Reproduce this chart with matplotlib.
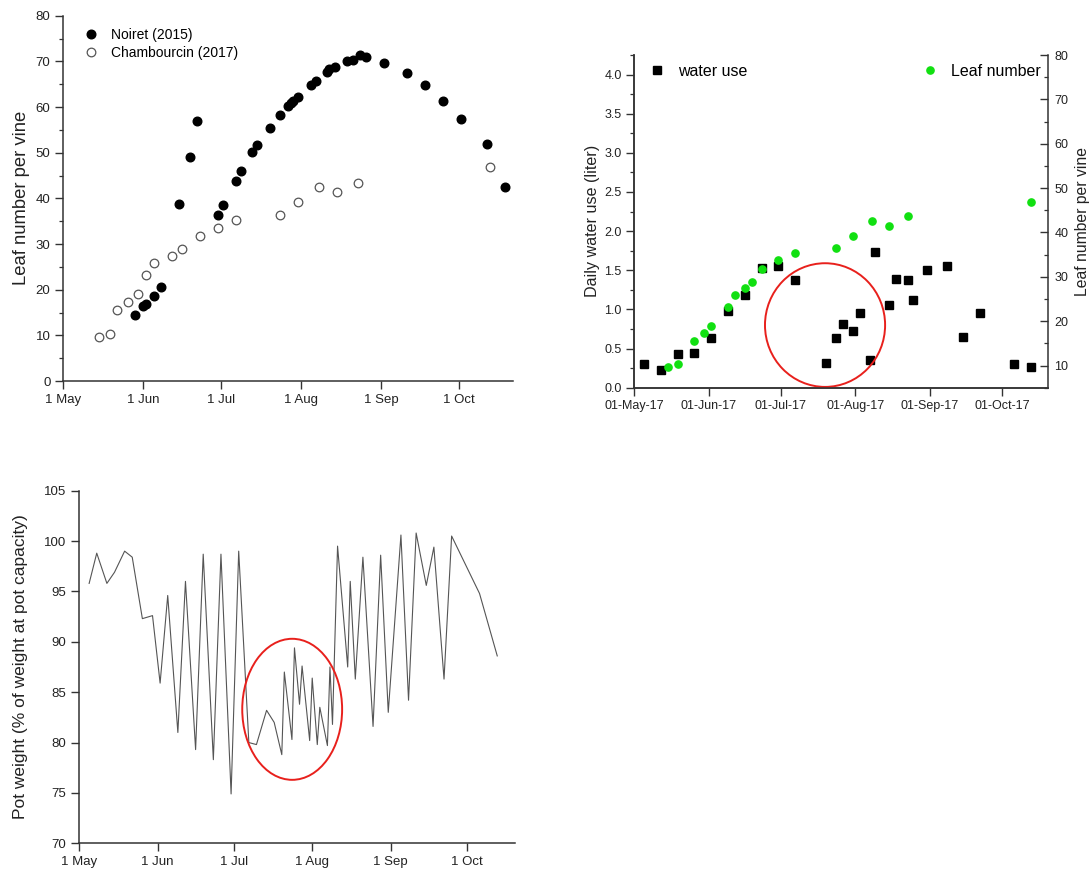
"""Leaf number, daily water use and pot weight of the vines, 2015 / 2017."""
import matplotlib
matplotlib.use("Agg")
import matplotlib.pyplot as plt
import matplotlib.dates as mdates
import numpy as np
import pandas as pd
from matplotlib.patches import Ellipse
from matplotlib.ticker import MultipleLocator

plt.rcParams["font.family"] = ["Liberation Sans", "DejaVu Sans"]

START = pd.Timestamp("2017-05-01")

# ---- data (days after 1 May) -------------------------------------------
noiret_day = [28, 31, 32, 35, 38, 45, 49, 52, 60, 62, 67, 69, 73, 75, 80, 84,
              87, 88, 89, 91, 96, 98, 102, 103, 105, 110, 112, 115, 117, 124,
              133, 140, 147, 154, 164, 171]
noiret_leaf = [14.4, 16.4, 16.9, 18.6, 20.5, 38.8, 49.1, 56.9, 36.4, 38.5,
               43.9, 46.0, 50.2, 51.7, 55.3, 58.2, 60.2, 60.8, 61.4, 62.3,
               64.8, 65.8, 67.7, 68.4, 68.8, 70.0, 70.4, 71.3, 70.9, 69.7,
               67.5, 64.8, 61.3, 57.4, 51.9, 42.4]

chamb_day = [14, 18, 21, 25, 29, 32, 35, 42, 46, 53, 60, 67, 84, 91, 99, 106,
             114, 165]
chamb_leaf = [9.7, 10.3, 15.6, 17.2, 19.1, 23.2, 25.8, 27.4, 28.8, 31.8, 33.6,
              35.2, 36.4, 39.2, 42.4, 41.5, 43.4, 46.9]

water_day = [4, 11, 18, 25, 32, 39, 46, 53, 60, 67, 80, 84, 87, 91, 94, 98,
             100, 106, 109, 114, 116, 122, 130, 137, 144, 158, 165]
water_use = [0.30, 0.23, 0.43, 0.44, 0.64, 0.98, 1.19, 1.53, 1.55, 1.37, 0.32,
             0.64, 0.81, 0.72, 0.96, 0.36, 1.735, 1.06, 1.39, 1.38, 1.12, 1.505,
             1.556, 0.65, 0.95, 0.30, 0.26]

leaf17_day = [14, 18, 25, 29, 32, 39, 42, 46, 49, 53, 60, 67, 84, 91, 99, 106,
              114, 165]
leaf17 = [9.7, 10.3, 15.6, 17.3, 19.0, 23.3, 25.8, 27.5, 28.8, 31.8, 33.8,
          35.4, 36.5, 39.3, 42.5, 41.5, 43.6, 46.9]

pot_day = [4, 7, 11, 14, 18, 21, 25, 29, 32, 35, 39, 42, 46, 49, 53, 56, 60,
           63, 67, 70, 74, 77, 80, 81, 84, 85, 87, 88, 91, 92, 94, 95, 98, 99,
           100, 102, 106, 107, 109, 112, 116, 119, 122, 127, 130, 133, 137,
           140, 144, 147, 158, 165]
pot_weight = [95.8, 98.8, 95.8, 96.9, 99.0, 98.4, 92.3, 92.6, 85.9, 94.6, 81.0,
              96.0, 79.3, 98.7, 78.3, 98.7, 74.9, 99.0, 80.0, 79.8, 83.2, 82.0,
              78.8, 87.0, 80.3, 89.4, 83.8, 87.6, 80.2, 86.4, 79.8, 83.5, 79.7,
              87.5, 81.8, 99.5, 87.5, 96.0, 86.3, 98.4, 81.6, 98.6, 83.0, 100.6,
              84.2, 100.8, 95.6, 99.4, 86.3, 100.5, 94.8, 88.6]


def dates(days):
    return START + pd.to_timedelta(np.asarray(days), unit="D")


INK = "#333333"


def style(ax):
    for s in ("top", "right"):
        ax.spines[s].set_visible(False)
    for s in ("left", "bottom", "right"):
        ax.spines[s].set_color(INK)
        ax.spines[s].set_linewidth(1.1)
    ax.tick_params(which="major", direction="out", length=5.5, width=1.0,
                   color=INK, labelcolor="#222222", labelsize=9.5)
    ax.tick_params(which="minor", direction="out", length=3, width=0.9,
                   color=INK)
    ax.xaxis.set_major_locator(mdates.MonthLocator())


W, H = 1091, 871
fig = plt.figure(figsize=(W / 100, H / 100), dpi=100)


def add_axes(left, right, top, bottom):
    return fig.add_axes([left / W, 1 - bottom / H, (right - left) / W,
                         (bottom - top) / H])


# ---------------------------------------------------------------- top left
ax1 = add_axes(63, 513, 15.7, 381)
ax1.plot(dates(noiret_day), noiret_leaf, "o", color="black", ms=6.2,
         label="Noiret (2015)")
ax1.plot(dates(chamb_day), chamb_leaf, "o", mfc="white", mec="#555555",
         mew=0.9, ms=6.2, label="Chambourcin (2017)")
ax1.set_xlim(START, START + pd.Timedelta(days=174))
ax1.set_ylim(0, 80)
ax1.yaxis.set_major_locator(MultipleLocator(10))
ax1.yaxis.set_minor_locator(MultipleLocator(5))
style(ax1)
ax1.xaxis.set_major_formatter(mdates.DateFormatter("%-d %b"))
ax1.set_ylabel("Leaf number per vine", fontsize=13.3, color="#222222",
               labelpad=4)
ax1.legend(loc="upper left", bbox_to_anchor=(0.015, 1.0), frameon=False,
           fontsize=10, handlelength=1.4, handletextpad=0.75,
           labelspacing=0.32, borderaxespad=0.45)

# ---------------------------------------------------------------- top right
ax2 = add_axes(634.3, 1047.5, 55, 387.7)
ax2.plot(dates(water_day), water_use, "s", color="black", ms=5.8,
         label="water use")
ax2.set_xlim(START, START + pd.Timedelta(days=172))
ax2.set_ylim(0, 4.25)
ax2.yaxis.set_major_locator(MultipleLocator(0.5))
ax2.yaxis.set_minor_locator(MultipleLocator(0.25))
ax2.yaxis.set_major_formatter(lambda v, p: f"{v:.1f}")
style(ax2)
ax2.tick_params(labelsize=9)
ax2.xaxis.set_major_formatter(mdates.DateFormatter("%d-%b-%y"))
ax2.set_ylabel("Daily water use (liter)", fontsize=11.6, color="#222222",
               labelpad=3)
ax2.legend(loc="upper left", frameon=False, fontsize=11.5, handlelength=1.0,
           handletextpad=0.8, borderaxespad=0.15, bbox_to_anchor=(0.015, 1.0))

ax2r = ax2.twinx()
ax2r.plot(dates(leaf17_day), leaf17, "o", color="#11e011", ms=5.2,
          label="Leaf number")
ax2r.set_ylim(5, 80)
ax2r.yaxis.set_major_locator(MultipleLocator(10))
ax2r.yaxis.set_minor_locator(MultipleLocator(5))
style(ax2r)
ax2r.spines["right"].set_visible(True)
ax2r.tick_params(axis="y", which="both", direction="in", labelsize=9, pad=5)
ax2r.set_ylabel("Leaf number per vine", fontsize=11.3, color="#222222",
                labelpad=5)
ax2r.legend(loc="upper right", frameon=False, fontsize=11.5, handlelength=1.0,
            handletextpad=0.8, borderaxespad=0.15, bbox_to_anchor=(1.004, 1.0))

ax2.add_patch(Ellipse((mdates.date2num(START + pd.Timedelta(days=79.4)), 0.80),
                      width=50, height=1.58, fill=False, edgecolor="#e8201c",
                      linewidth=1.4, zorder=5))

# ---------------------------------------------------------------- bottom
ax3 = add_axes(79, 515, 490.7, 843.3)
ax3.plot(dates(pot_day), pot_weight, color="#555555", linewidth=0.8)
ax3.set_xlim(START, START + pd.Timedelta(days=172))
ax3.set_ylim(70, 105)
ax3.yaxis.set_major_locator(MultipleLocator(5))
style(ax3)
ax3.xaxis.set_major_formatter(mdates.DateFormatter("%-d %b"))
ax3.set_ylabel("Pot weight (% of weight at pot capacity)", fontsize=12.5,
               color="#222222", labelpad=12)
ax3.add_patch(Ellipse((mdates.date2num(START + pd.Timedelta(days=84.1)), 83.3),
                      width=39.4, height=14.0, fill=False, edgecolor="#e8201c",
                      linewidth=1.4, zorder=5))

fig.savefig("out.png", dpi=100, facecolor="white")
